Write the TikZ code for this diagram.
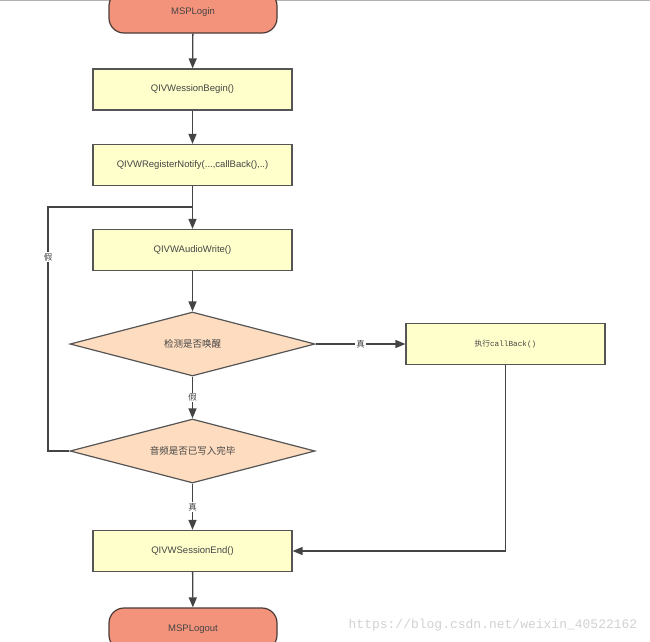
\documentclass[tikz,border=0pt]{standalone}
\usepackage{fontspec}
\setmainfont{Liberation Sans}
\newfontfamily\cjk{Noto Sans CJK SC}
\newfontfamily\mono{Liberation Mono}
\usetikzlibrary{shapes.geometric,arrows.meta}
\definecolor{termfill}{HTML}{F4937B}
\definecolor{termline}{HTML}{4A3A35}
\definecolor{boxfill}{HTML}{FFFFCC}
\definecolor{boxline}{HTML}{555555}
\definecolor{decfill}{HTML}{FEDCC0}
\definecolor{txt}{HTML}{444444}
\tikzset{
  term/.style={draw=termline, fill=termfill, line width=1.2pt, rounded corners=15pt,
    minimum width=168pt, minimum height=42pt, inner sep=0pt, text=txt, font=\fontsize{9.5}{11}\selectfont},
  procbox/.style={draw=boxline, fill=boxfill, line width=1.2pt,
    minimum width=199pt, minimum height=41pt, inner sep=0pt, text=txt, font=\fontsize{9.5}{11}\selectfont},
  decision/.style={diamond, draw=boxline, fill=decfill, line width=1.2pt,
    minimum width=245pt, minimum height=64pt, inner sep=0pt, text=txt, font=\cjk\fontsize{9.5}{11}\selectfont},
  flow/.style={draw=boxline!80!black, line width=1.3pt},
  arr/.style={flow, -{Triangle[length=10pt,width=8pt]}},
  lbl/.style={fill=white, inner sep=1pt, text=txt, font=\cjk\fontsize{8.5}{10}\selectfont},
}
\begin{document}
\begin{tikzpicture}[x=1pt,y=-1pt]
\useasboundingbox (0,0) rectangle (650,641);
\draw[line width=1.5pt, color=black!30] (0,0.5) -- (650,0.5);
\node[term] (login) at (193,12) {MSPLogin};
\node[procbox] (begin) at (192.5,89.5) {QIVWessionBegin()};
\node[procbox] (reg) at (192.5,165) {QIVWRegisterNotify(...,callBack(),..)};
\node[procbox] (aw) at (192.5,250) {QIVWAudioWrite()};
\node[decision] (d1) at (192.5,344) {\makebox[0pt]{检测是否唤醒}};
\node[procbox] (cb) at (505.5,344) {{\cjk\fontsize{7.7}{9}\selectfont 执行}{\mono\fontsize{7.7}{9}\selectfont callBack()}};
\node[decision] (d2) at (192.5,451) {\makebox[0pt]{音频是否已写入完毕}};
\node[procbox] (end) at (192.5,551) {QIVWSessionEnd()};
\node[term] (logout) at (193,629) {MSPLogout};
\coordinate (loop) at (48,207);
\coordinate (join) at (192.5,207);
\draw[arr] (login) -- (begin);
\draw[arr] (begin) -- (reg);
\draw[arr] (reg) -- (aw);
\draw[arr] (aw) -- (d1);
\draw[arr] (d1) -- node[lbl, pos=0.5] {真} (cb);
\draw[arr] (d1) -- node[lbl, pos=0.5] {假} (d2);
\draw[flow] (d2.west) -| (loop) -- (join);
\node[lbl] (f2) at (48,257) {假};
\draw[arr] (d2) -- node[lbl, pos=0.5] {真} (end);
\draw[arr] (cb.south) |- (end.east);
\draw[arr] (end) -- (logout);
\node[text=black!18, font=\mono\fontsize{13}{15}\selectfont] (wm) at (493,625) {https://blog.csdn.net/weixin\_40522162};
\end{tikzpicture}
\end{document}
